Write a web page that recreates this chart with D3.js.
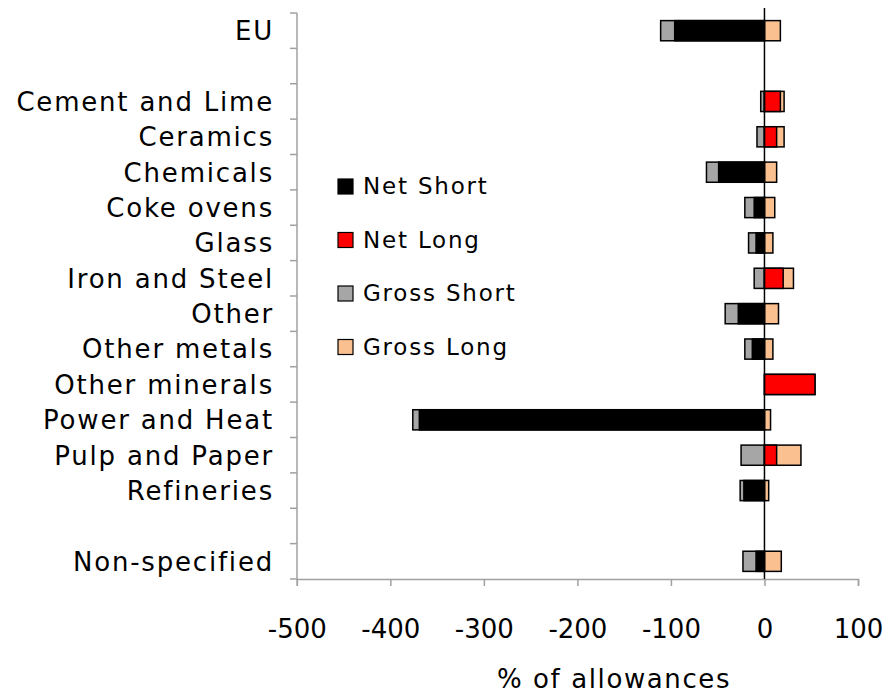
<!DOCTYPE html>
<html>
<head>
<meta charset="utf-8">
<script src="https://cdn.jsdelivr.net/npm/d3@7"></script>
<style>
  html, body { margin: 0; padding: 0; background: #fff; }
  svg text { font-family: "DejaVu Sans", sans-serif; fill: #000; }
</style>
</head>
<body>
<svg id="chart" width="888" height="697"></svg>
<script>
// Sector rows (empty strings are spacer rows)
const categories = ["EU", "", "Cement and Lime", "Ceramics", "Chemicals", "Coke ovens", "Glass",
  "Iron and Steel", "Other", "Other metals", "Other minerals", "Power and Heat",
  "Pulp and Paper", "Refineries", "", "Non-specified"];

// % of allowances per sector (null = no bar)
const grossShort = [-111, null, -4, -8, -62, -21, -17, -11, -42, -21, 0, -376, -25, -26, null, -23];
const grossLong  = [17, null, 21, 21, 13, 11, 9, 31, 15, 9, 54, 6.5, 39, 4.5, null, 18];
const netShort   = [-96, null, null, null, -49, -11, -9, null, -28, -13, null, -369, null, -22, null, -9];
const netLong    = [null, null, 17, 13, null, null, null, 20, null, null, 54, null, 13, null, null, null];

const xTicks = [-500, -400, -300, -200, -100, 0, 100];
const seriesNames = ["Net Short", "Net Long", "Gross Short", "Gross Long"];
const seriesColors = ["#000000", "#ff0000", "#a6a6a6", "#fac090"];

const svg = d3.select("#chart");

const x = d3.scaleLinear().domain([-500, 100]).range([296.8, 858]);
const band = d3.scaleBand().domain(d3.range(categories.length)).range([13, 579]);
const y = d3.scaleBand().domain(d3.range(categories.length)).range([13, 579])
  .paddingInner(0.43).paddingOuter(0.215);

const axisColor = "#a0a0a0";

// category axis line and ticks at row boundaries
const g = svg.append("g");
g.append("line").attr("x1", 297).attr("x2", 297).attr("y1", 13).attr("y2", 579)
  .attr("stroke", axisColor).attr("stroke-width", 1.5);
g.selectAll("line.tk").data(d3.range(categories.length + 1)).join("line")
  .attr("class", "tk")
  .attr("x1", 290).attr("x2", 297)
  .attr("y1", i => 13 + i * band.step()).attr("y2", i => 13 + i * band.step())
  .attr("stroke", axisColor).attr("stroke-width", 1.5);

// value axis
const xAxis = svg.append("g").attr("transform", "translate(0,579)")
  .call(d3.axisBottom(x).tickValues(xTicks).tickSize(7).tickPadding(34).tickFormat(d => String(d)));
xAxis.select(".domain").attr("stroke", axisColor).attr("stroke-width", 1.5);
xAxis.selectAll(".tick line").attr("stroke", axisColor).attr("stroke-width", 1.5);
xAxis.selectAll(".tick text").attr("font-size", 26).attr("font-family", "DejaVu Sans").attr("fill", "#000");

// category labels
svg.append("g").selectAll("text").data(categories).join("text")
  .attr("x", 274)
  .attr("y", (d, i) => band(i) + band.bandwidth() / 2)
  .attr("dy", "0.36em")
  .attr("text-anchor", "end")
  .attr("font-size", 26)
  .attr("letter-spacing", 1.8)
  .text(d => d);

// bars: gross first, nets drawn over them
function bars(values, color) {
  svg.append("g").selectAll("rect")
    .data(values.map((v, i) => ({ v, i })).filter(d => d.v !== null && d.v !== 0))
    .join("rect")
    .attr("x", d => x(Math.min(0, d.v)))
    .attr("width", d => Math.abs(x(d.v) - x(0)))
    .attr("y", d => y(d.i))
    .attr("height", y.bandwidth())
    .attr("fill", color)
    .attr("stroke", "#000")
    .attr("stroke-width", 1.5);
}
bars(grossShort, seriesColors[2]);
bars(grossLong, seriesColors[3]);
bars(netShort, seriesColors[0]);
bars(netLong, seriesColors[1]);

// zero line
svg.append("line").attr("x1", x(0)).attr("x2", x(0)).attr("y1", 8).attr("y2", 579)
  .attr("stroke", "#000").attr("stroke-width", 1.5);

// legend
const leg = svg.append("g");
seriesNames.forEach((name, i) => {
  const yy = 186 + i * 53.5;
  leg.append("rect").attr("x", 338).attr("y", yy - 7).attr("width", 15).attr("height", 15)
    .attr("fill", seriesColors[i]).attr("stroke", "#000").attr("stroke-width", 1.2);
  leg.append("text").attr("x", 363).attr("y", yy).attr("dy", "0.36em")
    .attr("font-size", 23).attr("letter-spacing", 1.8).text(name);
});

// axis title
svg.append("text").attr("x", 614).attr("y", 688).attr("text-anchor", "middle")
  .attr("font-size", 26).attr("letter-spacing", 1.6).text("% of allowances");
</script>
</body>
</html>
